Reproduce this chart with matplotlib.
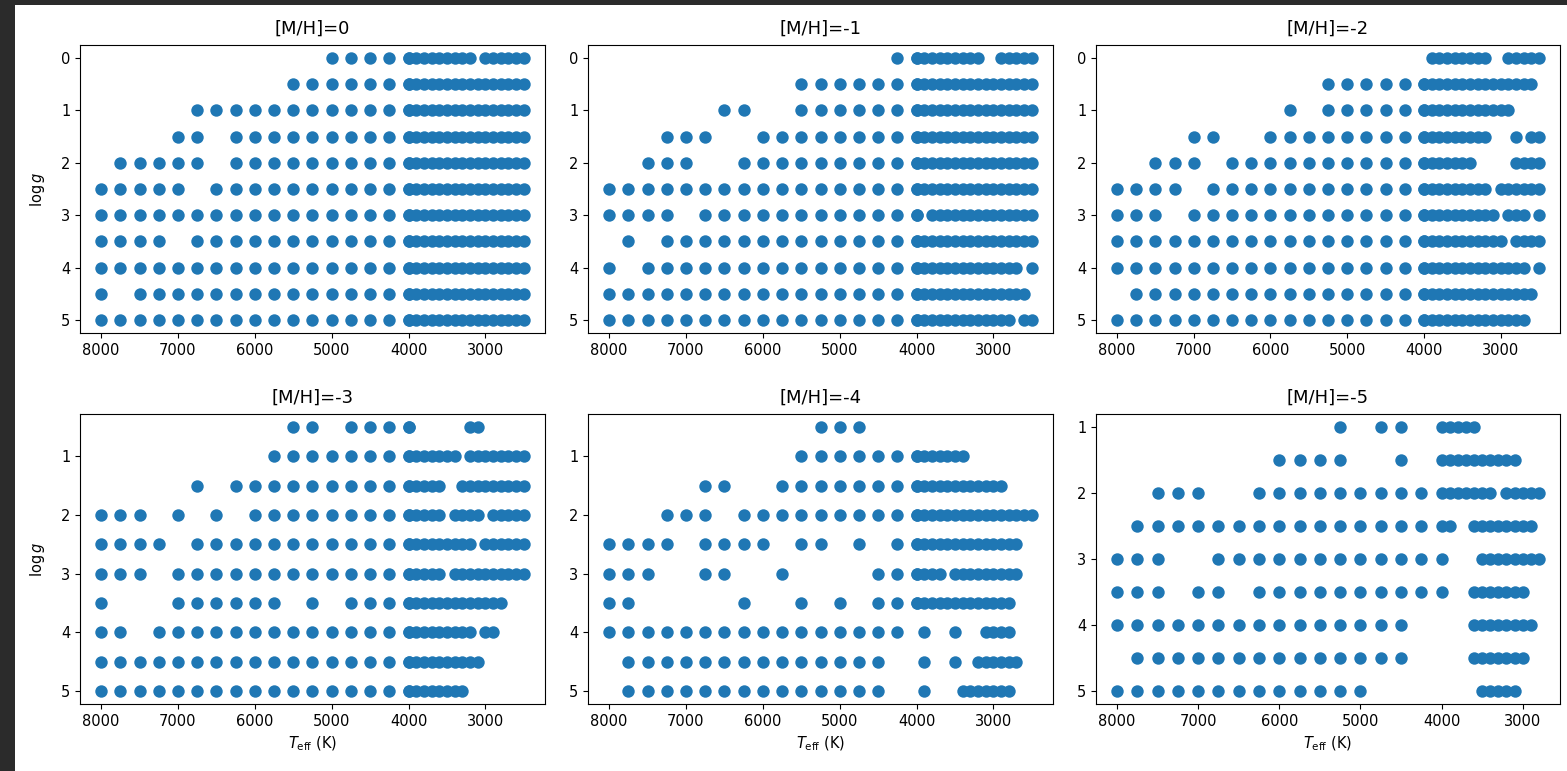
import matplotlib
matplotlib.use("Agg")
import matplotlib.pyplot as plt
from matplotlib.patches import Rectangle
from matplotlib.ticker import MultipleLocator

# ---------------- data ----------------
TEFF_COARSE = [8000, 7750, 7500, 7250, 7000, 6750, 6500, 6250, 6000,
               5750, 5500, 5250, 5000, 4750, 4500, 4250, 4000]
TEFF_FINE = [4000, 3900, 3800, 3700, 3600, 3500, 3400, 3300,
             3200, 3100, 3000, 2900, 2800, 2700, 2600, 2500]

METALLICITY = [0, -1, -2, -3, -4, -5]

LOGG_MH0 = [0.0, 0.5, 1.0, 1.5, 2.0, 2.5, 3.0, 3.5, 4.0, 4.5, 5.0]
LOGG_MH1 = [0.0, 0.5, 1.0, 1.5, 2.0, 2.5, 3.0, 3.5, 4.0, 4.5, 5.0]
LOGG_MH2 = [0.0, 0.5, 1.0, 1.5, 2.0, 2.5, 3.0, 3.5, 4.0, 4.5, 5.0]
LOGG_MH3 = [0.5, 1.0, 1.5, 2.0, 2.5, 3.0, 3.5, 4.0, 4.5, 5.0]
LOGG_MH4 = [0.5, 1.0, 1.5, 2.0, 2.5, 3.0, 3.5, 4.0, 4.5, 5.0]
LOGG_MH5 = [1.0, 1.5, 2.0, 2.5, 3.0, 3.5, 4.0, 4.5, 5.0]

# presence masks per log g row: coarse grid (TEFF_COARSE) and fine grid (TEFF_FINE)
COARSE_MH0 = ["00000000000011111", "00000000001111111", "00000111111111111",
              "00001101111111111", "01111101111111111", "11111011111111111",
              "11111111111111111", "11110111111111111", "11111111111111111",
              "10111111111111111", "11111111111111111"]
FINE_MH0 = ["1111111110111111", "1111111111111111", "1111111111111111",
            "1111111111111111", "1111111111111111", "1111111111111111",
            "1111111111111111", "1111111111111111", "1111111111111111",
            "1111111111111111", "1111111111111111"]

COARSE_MH1 = ["00000000000000011", "00000000001111111", "00000011001111111",
              "00011100111111111", "00111001111111111", "11111111111111111",
              "11110111111111111", "01011111111111111", "10111111111111111",
              "11111111111111111", "11111111111111111"]
FINE_MH1 = ["1111111110011111", "1111111111111111", "1111111111111111",
            "1111111111111111", "1111111111111111", "1111111111111111",
            "1011111111111111", "1111111111111111", "1111111111111101",
            "1111111111111110", "1111111111111011"]

COARSE_MH2 = ["00000000000000000", "00000000000111111", "00000000010111111",
              "00001100111111111", "00111011111111111", "11110111111111111",
              "11101111111111111", "11111111111111111", "11111111111111111",
              "01111111111111111", "11111111111111111"]
FINE_MH2 = ["0111111110011111", "1111111111111110", "1111111111110000",
            "1111111110001011", "1111111000001111", "1111111110111111",
            "1111111111011101", "1111111111101111", "1111111111111101",
            "1111111111111110", "1111111111111100"]

COARSE_MH3 = ["00000000001101111", "00000000011111111", "00000101111111111",
              "11101010111111111", "11110111111111111", "11101111111111111",
              "10001111110101111", "11011111111111111", "11111111111111111",
              "11111111111111111"]
FINE_MH3 = ["1000000011000000", "1111111011111111", "1111100111111111",
            "1111101111011111", "1111111110111111", "1111101111111111",
            "1111111111111000", "1111111110110000", "1111111111000000",
            "1111111100000000"]

COARSE_MH4 = ["00000000000111000", "00000000001111111", "00000110011111111",
              "00011101111111111", "11110111101101011", "11100110010000111",
              "11000001001010111", "11111111111111110", "01111111111111100",
              "01111111111111100"]
FINE_MH4 = ["0000000000000000", "1111111000000000", "1111111111110000",
            "1111111111111111", "1111111111111100", "1111011111111100",
            "1111111111111000", "0100010001111000", "0100010011111100",
            "0100001111111000"]

COARSE_MH5 = ["00000000000101100", "00000000111100100", "00111001111111110",
              "01111111111111110", "11100111111111110", "11101101111111110",
              "11111111111111100", "01111111111111100", "11111111111110000"]
FINE_MH5 = ["1111100000000000", "1111111111000000", "1111111011111000",
            "1100111111110000", "1000011111111000", "1000111111100000",
            "0000111111110000", "0000111111100000", "0000011111000000"]

PANELS = [
    (METALLICITY[0], LOGG_MH0, COARSE_MH0, FINE_MH0),
    (METALLICITY[1], LOGG_MH1, COARSE_MH1, FINE_MH1),
    (METALLICITY[2], LOGG_MH2, COARSE_MH2, FINE_MH2),
    (METALLICITY[3], LOGG_MH3, COARSE_MH3, FINE_MH3),
    (METALLICITY[4], LOGG_MH4, COARSE_MH4, FINE_MH4),
    (METALLICITY[5], LOGG_MH5, COARSE_MH5, FINE_MH5),
]


def expand(loggs, coarse, fine):
    xs, ys = [], []
    for g, cm, fm in zip(loggs, coarse, fine):
        for t, flag in zip(TEFF_COARSE, cm):
            if flag == "1":
                xs.append(t); ys.append(g)
        for t, flag in zip(TEFF_FINE, fm):
            if flag == "1":
                xs.append(t); ys.append(g)
    return xs, ys


# ---------------- figure ----------------
W, H = 1567, 771
fig = plt.figure(figsize=(W / 100, H / 100), dpi=100)
fig.patch.set_facecolor("white")

# dark screenshot frame (left and top)
fig.patches.append(Rectangle((0, 0), 15 / W, 1, transform=fig.transFigure,
                             facecolor="#2b2b2b", edgecolor="none", zorder=-10))
fig.patches.append(Rectangle((0, 1 - 5 / H), 1, 5 / H, transform=fig.transFigure,
                             facecolor="#2b2b2b", edgecolor="none", zorder=-10))

col_px = [(80, 545), (588, 1053), (1096, 1560)]
row_px = [(45, 333), (414, 704)]

for idx, (mh, loggs, coarse, fine) in enumerate(PANELS):
    r, c = divmod(idx, 3)
    x0, x1 = col_px[c]
    y0, y1 = row_px[r]
    ax = fig.add_axes([x0 / W, 1 - y1 / H, (x1 - x0) / W, (y1 - y0) / H])
    xs, ys = expand(loggs, coarse, fine)
    ax.scatter(xs, ys, s=80, color="#1f77b4", linewidths=0)
    ax.invert_xaxis()
    ax.invert_yaxis()
    ax.yaxis.set_major_locator(MultipleLocator(1))
    ax.set_title(f"[M/H]={mh}", fontsize=13, pad=8)
    ax.tick_params(labelsize=10.5)
    if c == 0:
        ax.set_ylabel(r"$\log g$", fontsize=10.5, labelpad=10)
    if r == 1:
        ax.set_xlabel(r"$T_{\rm eff}$ (K)", fontsize=10.5)

fig.savefig("out.png", dpi=100)
